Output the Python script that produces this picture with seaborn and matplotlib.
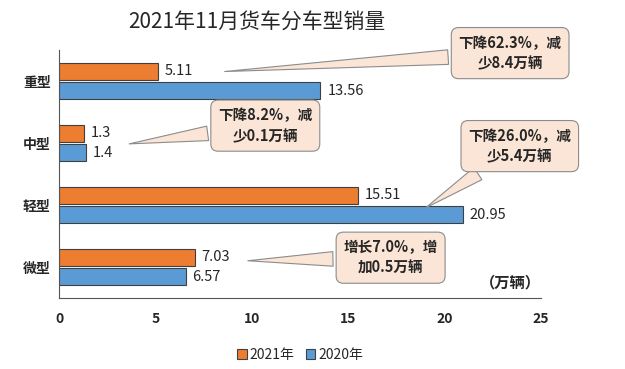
import matplotlib
matplotlib.use("Agg")
import matplotlib.pyplot as plt
import seaborn as sns
import pandas as pd

# 数据
categories = ["重型", "中型", "轻型", "微型"]
sales_2021 = [5.11, 1.3, 15.51, 7.03]
sales_2020 = [13.56, 1.4, 20.95, 6.57]
labels_2021 = ["5.11", "1.3", "15.51", "7.03"]
labels_2020 = ["13.56", "1.4", "20.95", "6.57"]
years = ["2021年", "2020年"]
notes = ["下降62.3%，减\n少8.4万辆", "下降8.2%，减\n少0.1万辆",
         "下降26.0%，减\n少5.4万辆", "增长7.0%，增\n加0.5万辆"]

df = pd.DataFrame({
    "车型": categories * 2,
    "销量": sales_2021 + sales_2020,
    "年份": [years[0]] * 4 + [years[1]] * 4,
})

sns.set_style("white")
plt.rcParams['font.family'] = ['Noto Sans CJK SC', 'DejaVu Sans']

fig = plt.figure(figsize=(6.25, 3.69), dpi=100)
ax = fig.add_axes([0.0944, 0.1924, 0.7712, 0.6721])

sns.barplot(data=df, y="车型", x="销量", hue="年份", orient="h",
            palette=["#ED7D31", "#5B9BD5"], saturation=1, width=0.62, gap=0.12,
            edgecolor="#404040", linewidth=0.8, ax=ax)

# 数值标签
for cont, labs in zip(ax.containers, [labels_2021, labels_2020]):
    ax.bar_label(cont, labels=labs, padding=5, fontsize=10.5)

ax.set_xlim(0, 25)
ax.set_ylim(3.5, -0.5)
ax.set_xticks(range(0, 26, 5))
ax.set_xlabel("")
ax.set_ylabel("")
for lab in ax.get_xticklabels() + ax.get_yticklabels():
    lab.set_fontweight("bold")
    lab.set_fontsize(10)
ax.set_yticks([-0.5, 0.5, 1.5, 2.5, 3.5], minor=True)
ax.tick_params(axis="y", which="major", length=0, pad=6)
ax.tick_params(axis="y", which="minor", length=4, direction="out", color="#333333")
ax.tick_params(axis="x", length=4, direction="out", color="#333333", pad=6)
ax.spines["top"].set_visible(False)
ax.spines["right"].set_visible(False)
for s in ["left", "bottom"]:
    ax.spines[s].set_color("#555555")

ax.set_title("2021年11月货车分车型销量", fontsize=15, fontweight="medium", pad=16, x=0.41)

# 标注框
box_xy = [(23.4, -0.45), (10.7, 0.72), (23.9, 1.05), (17.2, 2.85)]
tip_xy = [(8.45, -0.15), (3.5, 1.02), (18.9, 2.07), (9.65, 2.9)]
for txt, bxy, txy in zip(notes, box_xy, tip_xy):
    ax.annotate(txt, xy=txy, xytext=bxy, textcoords="data",
                ha="center", va="center", fontsize=10.5, fontweight="bold",
                linespacing=1.35, annotation_clip=False,
                bbox=dict(boxstyle="round,pad=0.5", fc="#FBE5D6", ec="#8C8C8C", lw=0.8),
                arrowprops=dict(arrowstyle="wedge,tail_width=1.0", fc="#FBE5D6",
                                ec="#8C8C8C", lw=0.8))

ax.text(25, 3.25, "（万辆）", ha="right", va="center", fontsize=11, fontweight="bold")

sns.move_legend(ax, "lower center", bbox_to_anchor=(0.48, -0.015),
                bbox_transform=fig.transFigure, ncol=2, frameon=False, title=None,
                handlelength=0.7, handleheight=0.7, handletextpad=0.2,
                columnspacing=0.8, fontsize=10)

fig.savefig("out.png", dpi=100)
